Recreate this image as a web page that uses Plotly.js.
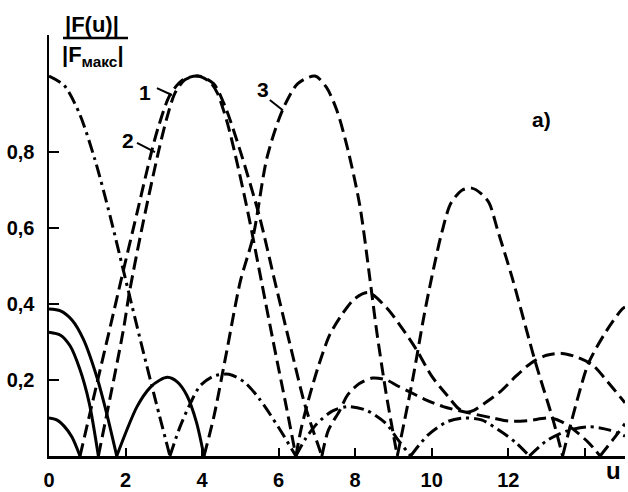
<!DOCTYPE html>
<html>
<head>
<meta charset="utf-8">
<script src="https://cdn.plot.ly/plotly-3.0.1.min.js"></script>
<style>html,body{margin:0;padding:0;background:#fff;}#chart{width:628px;height:492px;}</style>
</head>
<body>
<div id="chart"></div>
<script>
// ---- data (u, |F(u)|/|Fmax|) ----
// dash-dot curve (starts at 1 at u = 0)
const u_dd = [0,0.4,0.8,1.2,1.6,2.0,2.4,2.8,3.16, 3.42,3.7,3.95,4.3,4.7,5.1,5.5,6.0,6.45, 6.7,7.0,7.4,7.8,8.3,8.8,9.1,9.45, 9.9,10.4,10.85,11.3,11.8,12.2,12.55, 13.0,13.5,14.1,14.65,15.05];
const v_dd = [1.0,0.975,0.9,0.78,0.63,0.465,0.30,0.14,0, 0.076,0.14,0.185,0.21,0.215,0.195,0.15,0.075,0, 0.045,0.085,0.118,0.13,0.12,0.086,0.045,0, 0.055,0.09,0.1,0.095,0.065,0.035,0, 0.04,0.065,0.077,0.068,0.052];

// curve 1: side lobe near u = 0 (solid), then main lobe and far lobes (dashed)
const u_c1_side = [0,0.3,0.55,0.8,1.05,1.29];
const v_c1_side = [0.326,0.318,0.29,0.23,0.14,0];
const u_c1 = [1.29,1.94,2.1,2.45,2.87,3.08,3.29,3.55,3.87,4.2,4.4,4.65,4.85,5.2,5.55,5.9,6.2,6.45, 6.6,6.8,7.05,7.34,7.68,8.0,8.35,8.82,9.2,9.6,10.0,10.4,10.7,10.9,11.1,11.4,11.8,12.2,12.6,13.0,13.4,13.8,14.2,14.6,15.05];
const v_c1 = [0,0.33,0.43,0.61,0.805,0.89,0.955,0.99,1.0,0.985,0.955,0.88,0.8,0.64,0.46,0.28,0.13,0, 0.077,0.155,0.24,0.32,0.376,0.415,0.43,0.39,0.34,0.28,0.21,0.16,0.125,0.115,0.12,0.14,0.17,0.21,0.245,0.265,0.27,0.26,0.24,0.195,0.14];

// curve 2
const u_c2_side = [0,0.2,0.4,0.6,0.81];
const v_c2_side = [0.1,0.095,0.078,0.05,0];
const u_c2 = [0.81,1.25,1.6,1.9,2.3,2.69,2.87,3.16,3.5,3.9,4.3,4.6,4.99,5.5,5.9,6.33,6.7,7.13, 7.3,7.6,7.8,8.1,8.45,8.82,9.1,9.4,9.8,10.3,10.9,11.6,12.0,12.5,13.1,13.4,13.7,14.1,14.4, 14.75,15.05];
const v_c2 = [0,0.19,0.34,0.47,0.64,0.805,0.87,0.95,0.99,1.0,0.98,0.92,0.805,0.63,0.46,0.28,0.13,0, 0.068,0.12,0.16,0.19,0.205,0.2,0.185,0.17,0.15,0.13,0.115,0.1,0.092,0.093,0.1,0.09,0.07,0.035,0, 0.045,0.085];

// curve 3
const u_c3_side = [0,0.3,0.6,0.9,1.25,1.5,1.77, 2.0,2.3,2.64,2.9,3.1,3.35,3.6,3.85,4.05];
const v_c3_side = [0.387,0.382,0.358,0.307,0.208,0.115,0, 0.06,0.13,0.18,0.2,0.207,0.195,0.16,0.09,0];
const u_c3 = [4.05,4.3,4.65,5.0,5.33,5.7,6.1,6.5,6.95,7.25,7.52,7.8,8.12,8.38,8.56,8.8,9.1, 9.5,9.8,10.0,10.26,10.5,10.8,11.04,11.3,11.5,11.72,12.1,12.7,13.17,13.42, 13.8,14.1,14.57,14.96,15.05];
const v_c3 = [0,0.1,0.279,0.46,0.576,0.787,0.91,0.98,1.0,0.97,0.91,0.81,0.66,0.47,0.33,0.17,0, 0.2,0.37,0.47,0.587,0.665,0.7,0.705,0.69,0.666,0.595,0.47,0.25,0.095,0, 0.147,0.245,0.33,0.385,0.392];

const xTickVals = [0,2,4,6,8,10,12,14];
const xTickText = ['0','2','4','6','8','10','12',' '];
const yTickVals = [0.2,0.4,0.6,0.8];
const yTickText = ['0,2','0,4','0,6','0,8'];

// ---- drawing ----
const LONG = '13px,6px';
const DASHDOT = '13px,5px,3px,5px';
const traces = [];
function addCurve(u, v, dash) {
  // split into lobes at interior zeros so that nulls stay sharp
  let start = 0;
  for (let i = 1; i < u.length; i++) {
    if (v[i] === 0 || i === u.length - 1) {
      traces.push({
        x: u.slice(start, i + 1), y: v.slice(start, i + 1),
        mode: 'lines', hoverinfo: 'skip', showlegend: false,
        line: {color: '#000', width: 3, dash: dash, shape: 'spline', smoothing: 0.8}
      });
      start = i;
    }
  }
}
addCurve(u_dd, v_dd, DASHDOT);
addCurve(u_c1_side, v_c1_side, 'solid');
addCurve(u_c2_side, v_c2_side, 'solid');
addCurve(u_c3_side, v_c3_side, 'solid');
addCurve(u_c1, v_c1, LONG);
addCurve(u_c2, v_c2, LONG);
addCurve(u_c3, v_c3, LONG);

const F = 'Liberation Sans Narrow, Arial Narrow, sans-serif';
const W = 576, H = 421, L = 49, B = 456;   // plot area geometry used for paper positions
function px(x) { return (x - L) / W; }
function py(y) { return (B - y) / H; }
function lbl(text, x, y, size) {
  return {text: text, x: px(x), y: py(y), xref: 'paper', yref: 'paper', showarrow: false,
          xanchor: 'center', yanchor: 'middle',
          font: {family: F, size: size || 21, color: '#000', weight: 'bold'}};
}
const layout = {
  width: 628, height: 492,
  margin: {l: 49, r: 3, t: 35, b: 36},
  paper_bgcolor: '#fff', plot_bgcolor: '#fff',
  showlegend: false,
  xaxis: {range: [0, 15.05], tickvals: xTickVals, ticktext: xTickText,
          ticks: 'inside', ticklen: 8, tickwidth: 2, tickcolor: '#000',
          showline: true, linewidth: 2.5, linecolor: '#000',
          showgrid: false, zeroline: false, ticklabelstandoff: 4,
          tickfont: {family: F, size: 20, color: '#000', weight: 'bold'}},
  yaxis: {range: [0, 1.108], tickvals: yTickVals, ticktext: yTickText,
          ticks: 'inside', ticklen: 10, tickwidth: 2, tickcolor: '#000',
          showline: true, linewidth: 2.5, linecolor: '#000',
          showgrid: false, zeroline: false, ticklabelstandoff: 8,
          tickfont: {family: F, size: 20, color: '#000', weight: 'bold'}},
  annotations: [
    lbl('1', 145, 92), lbl('2', 128, 140), lbl('3', 263, 89),
    lbl('a)', 541, 119),
    lbl('u', 613, 470, 24),
    lbl('|F(u)|', 92, 25, 22),
    lbl('|F<sub>макс</sub>|', 93, 56, 22)
  ],
  shapes: [
    {type: 'line', xref: 'paper', yref: 'paper', x0: px(63), x1: px(128),
     y0: py(38), y1: py(38), line: {color: '#000', width: 2.5}},
    {type: 'line', xref: 'x', yref: 'y', x0: 2.82, y0: 0.968, x1: 3.21, y1: 0.95, line: {color: '#000', width: 2}},
    {type: 'line', xref: 'x', yref: 'y', x0: 2.30, y0: 0.824, x1: 2.77, y1: 0.80, line: {color: '#000', width: 2}},
    {type: 'line', xref: 'x', yref: 'y', x0: 5.77, y0: 0.937, x1: 6.11, y1: 0.91, line: {color: '#000', width: 2}}
  ]
};
Plotly.newPlot('chart', traces, layout, {staticPlot: true, displayModeBar: false});
</script>
</body>
</html>
